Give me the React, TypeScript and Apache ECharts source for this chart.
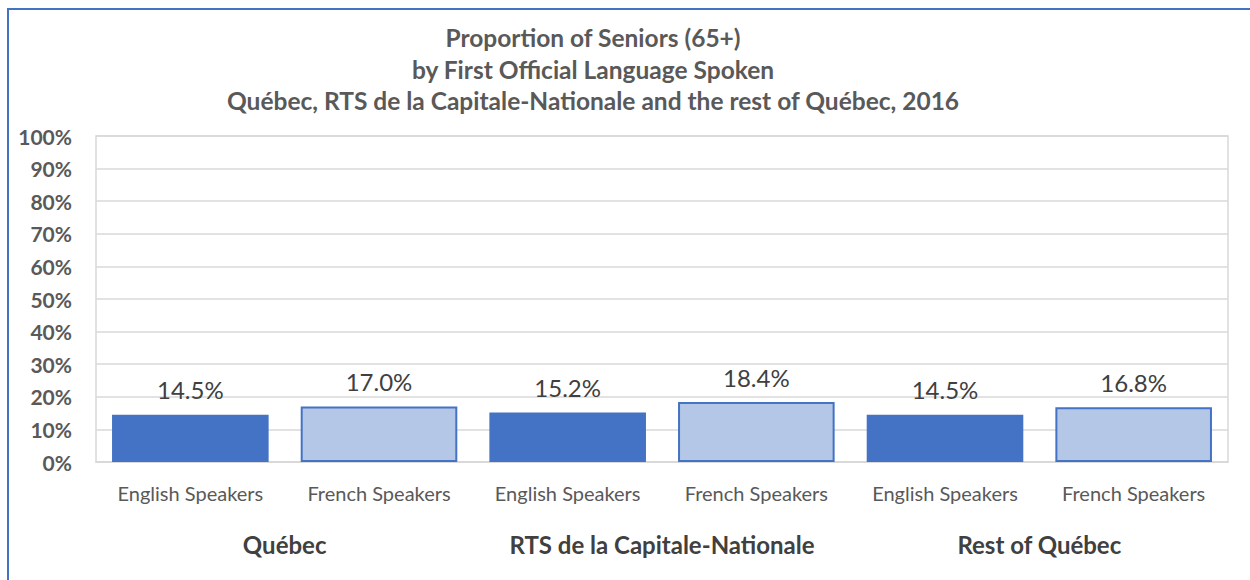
import React, { useEffect, useRef } from "react";
import * as echarts from "echarts";

const categories = [
  "English Speakers",
  "French Speakers",
  "English Speakers",
  "French Speakers",
  "English Speakers",
  "French Speakers",
];
const groups = ["Québec", "RTS de la Capitale-Nationale", "Rest of Québec"];
const values = [14.5, 17.0, 15.2, 18.4, 14.5, 16.8];
const yTicks = [0, 10, 20, 30, 40, 50, 60, 70, 80, 90, 100];
const titleLines = [
  "Proportion of Seniors (65+)",
  "by First Official Language Spoken",
  "Québec, RTS de la Capitale-Nationale and the rest of Québec, 2016",
];

const FONT = "Lato, 'Open Sans', sans-serif";
const DARK = "#4472C4";
const LIGHT = "#B4C7E7";

export default function App() {
  const ref = useRef<HTMLDivElement>(null);
  useEffect(() => {
    if (!ref.current) return;
    const chart = echarts.init(ref.current, undefined, { renderer: "svg" });
    chart.setOption({
      animation: false,
      backgroundColor: "transparent",
      title: {
        text: titleLines.join("\n"),
        left: 588,
        top: 17,
        textAlign: "center",
        textStyle: {
          fontFamily: FONT,
          fontSize: 24.5,
          fontWeight: "bold",
          color: "#595959",
          lineHeight: 31.5,
        },
      },
      grid: {
        left: 96,
        right: 22,
        top: 136,
        bottom: 118,
        show: true,
        borderColor: "#D9D9D9",
        borderWidth: 1.5,
      },
      xAxis: [
        {
          type: "category",
          data: categories,
          axisTick: { show: false },
          axisLine: { lineStyle: { color: "#D9D9D9", width: 1.5 } },
          axisLabel: {
            interval: 0,
            fontFamily: FONT,
            fontSize: 20,
            color: "#595959",
            margin: 21,
          },
        },
        {
          type: "category",
          data: groups,
          position: "bottom",
          axisTick: { show: false },
          axisLine: { show: false },
          splitLine: { show: false },
          axisLabel: {
            interval: 0,
            fontFamily: FONT,
            fontSize: 24,
            fontWeight: "bold",
            color: "#404040",
            margin: 70,
          },
        },
      ],
      yAxis: {
        type: "value",
        min: yTicks[0],
        max: yTicks[yTicks.length - 1],
        interval: 10,
        axisLine: { show: false },
        axisTick: { show: false },
        splitLine: { lineStyle: { color: "#D9D9D9", width: 1.5 } },
        axisLabel: {
          formatter: "{value}%",
          fontFamily: FONT,
          fontSize: 21,
          fontWeight: "bold",
          color: "#595959",
          margin: 24,
        },
      },
      series: [
        {
          type: "bar",
          xAxisIndex: 0,
          barWidth: "83%",
          data: values.map((v, i) => ({
            value: v,
            itemStyle:
              i % 2 === 0
                ? { color: DARK }
                : { color: LIGHT, borderColor: DARK, borderWidth: 2 },
          })),
          label: {
            show: true,
            position: "top",
            distance: 13,
            fontFamily: FONT,
            fontSize: 24,
            color: "#404040",
            formatter: (p: any) => p.value.toFixed(1) + "%",
          },
        },
      ],
    });
    return () => chart.dispose();
  }, []);
  return (
    <div style={{ position: "fixed", left: 0, top: 0, width: 1250, height: 580, background: "#fff" }}>
      <div
        style={{
          position: "absolute",
          left: 7,
          top: 8,
          width: 1260,
          height: 600,
          borderLeft: `2px solid ${DARK}`,
          borderTop: `2px solid ${DARK}`,
        }}
      />
      <div ref={ref} style={{ position: "absolute", left: 0, top: 0, width: 1250, height: 580 }} />
    </div>
  );
}
